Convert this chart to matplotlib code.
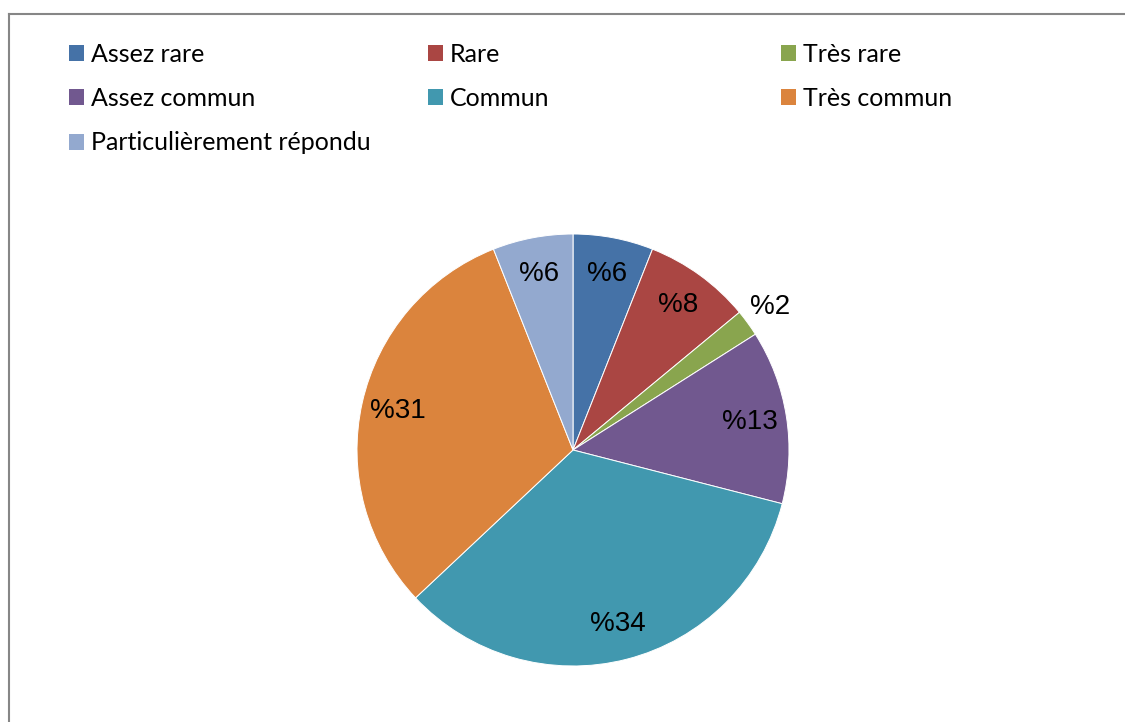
import numpy as np
import matplotlib
matplotlib.use("Agg")
import matplotlib.pyplot as plt
from matplotlib.lines import Line2D
from matplotlib.patches import Patch

# data
categories = ["Assez rare", "Rare", "Très rare", "Assez commun", "Commun",
              "Très commun", "Particulièrement répondu"]
values = [6, 8, 2, 13, 34, 31, 6]
colors = ["#4572A7", "#AA4643", "#89A54E", "#71588F", "#4198AF",
          "#DB843D", "#93A9CF"]

W, H = 1125, 722
fig = plt.figure(figsize=(W / 100, H / 100), dpi=100)

# pie axes: centre (573, 450) px, radius 216 px
cx, cy, r = 573, 450, 216
ax = fig.add_axes([(cx - r) / W, (H - cy - r) / H, 2 * r / W, 2 * r / H])
wedges, texts, autotexts = ax.pie(
    values, colors=colors, startangle=90, counterclock=False,
    autopct=lambda p: "%" + str(int(round(p))), pctdistance=0.83,
    wedgeprops=dict(edgecolor="white", linewidth=0.7),
    textprops=dict(fontsize=20, family="Liberation Sans", color="black"))
ax.set_xlim(-1, 1)
ax.set_ylim(-1, 1)
ax.set_aspect("equal")

# the tiny slice gets its label outside
small = values.index(2)
w = wedges[small]
mid = np.deg2rad((w.theta1 + w.theta2) / 2)
autotexts[small].set_position((1.13 * np.cos(mid), 1.13 * np.sin(mid)))

# legend: three columns laid out row by row
handles = [Patch(facecolor=c, edgecolor="none") for c in colors]
col_x = [69, 428, 781]
for k, x in enumerate(col_x):
    idx = list(range(k, len(categories), 3))
    fig.legend([handles[i] for i in idx], [categories[i] for i in idx],
               loc="upper left", bbox_to_anchor=(x / W, 1 - 42.5 / H),
               frameon=False, prop=dict(family="Lato", size=18),
               handlelength=0.6, handleheight=0.6, handletextpad=0.28,
               labelspacing=0.86, borderpad=0, borderaxespad=0)

# grey chart border (left and top visible)
fig.add_artist(Line2D([8.5 / W, 8.5 / W], [0, 1 - 13.5 / H],
                      transform=fig.transFigure, color="#868686", lw=1.5))
fig.add_artist(Line2D([8.5 / W, 1], [1 - 13.5 / H, 1 - 13.5 / H],
                      transform=fig.transFigure, color="#868686", lw=1.5))

fig.savefig("out.png", dpi=100)
